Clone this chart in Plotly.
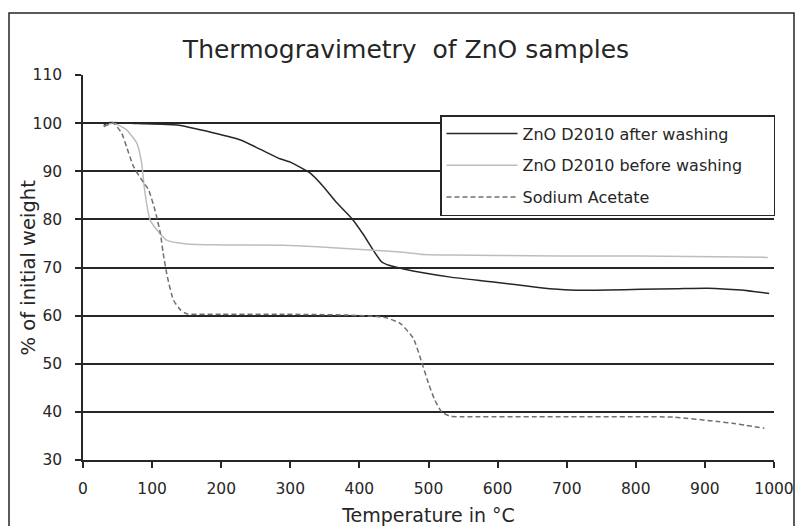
import plotly.graph_objects as go

# ---- data ----
after_x = [30, 36, 80, 136, 188, 228, 256, 285, 300, 328, 348, 367, 389, 406, 420, 432, 444, 464, 492, 532, 594, 662, 705, 760, 807, 860, 904, 952, 993]
after_y = [99.5, 100.1, 99.9, 99.6, 98.0, 96.5, 94.6, 92.6, 91.9, 89.7, 86.8, 83.5, 80.2, 76.8, 73.6, 71.2, 70.4, 69.7, 68.9, 68.0, 67.0, 65.8, 65.3, 65.3, 65.5, 65.6, 65.7, 65.3, 64.6]

before_x = [30, 44, 63, 78, 85, 88, 92, 97, 107, 121, 150, 200, 290, 339, 420, 459, 493, 532, 600, 691, 807, 991]
before_y = [99.3, 100, 98.6, 95.8, 91.6, 87.5, 83.3, 79.9, 77.8, 75.7, 74.9, 74.7, 74.6, 74.3, 73.6, 73.2, 72.7, 72.6, 72.5, 72.4, 72.4, 72.1]

acetate_x = [30, 44, 56, 63, 73, 85, 95, 104, 112, 116, 122, 131, 141, 150, 200, 285, 387, 426, 440, 459, 478, 490, 500, 509, 519, 531, 546, 691, 800, 855, 918, 942, 986]
acetate_y = [99.3, 100, 97.9, 95.1, 91.0, 88.2, 86.1, 82.0, 77.1, 73.0, 68.1, 63.2, 61.2, 60.4, 60.3, 60.3, 60.1, 59.8, 59.5, 58.4, 55.3, 50.4, 45.9, 42.5, 40.0, 39.1, 39.0, 39.0, 39.0, 38.9, 38.0, 37.6, 36.6]

series_names = ["ZnO D2010 after washing", "ZnO D2010 before washing", "Sodium Acetate"]
x_ticks = [0, 100, 200, 300, 400, 500, 600, 700, 800, 900, 1000]
y_ticks = [30, 40, 50, 60, 70, 80, 90, 100, 110]

FONT = "DejaVu Sans"
INK = "#262626"

fig = go.Figure()
fig.add_trace(go.Scatter(x=after_x, y=after_y, mode="lines", name=series_names[0],
                         legendgroup="a",
                         line=dict(color=INK, width=1.5, shape="spline", smoothing=0.5)))
fig.add_trace(go.Scatter(x=before_x, y=before_y, mode="lines",
                         name=series_names[1] + "\u00a0\u00a0\u00a0\u00a0\u00a0",
                         legendgroup="b",
                         line=dict(color="#bdbdbd", width=1.5, shape="spline", smoothing=0.5)))
fig.add_trace(go.Scatter(x=acetate_x, y=acetate_y, mode="lines", name=series_names[2],
                         legendgroup="c",
                         line=dict(color="#707070", width=1.5, dash="5px,3px", shape="spline", smoothing=0.5)))

fig.update_layout(
    width=795, height=526,
    margin=dict(l=83, r=21, t=75, b=66),
    paper_bgcolor="white", plot_bgcolor="white",
    font=dict(family=FONT, color=INK),
    title=dict(text="Thermogravimetry\u00a0 of ZnO samples", x=0.5107, xanchor="center",
               y=1 - 49 / 526, yanchor="middle", font=dict(family=FONT, size=25, color=INK)),
    xaxis=dict(range=[0, 1000], tickvals=x_ticks, ticks="outside", ticklen=6, tickwidth=1.5,
               tickcolor=INK, showline=True, linecolor=INK, linewidth=1.5,
               showgrid=False, zeroline=False, tickfont=dict(size=15.5), automargin=False,
               ticklabelstandoff=8,
               title=dict(text="Temperature in °C", font=dict(size=19), standoff=14)),
    yaxis=dict(range=[30, 110], tickvals=y_ticks, ticks="outside", ticklen=6, tickwidth=1.5,
               tickcolor=INK, showline=True, linecolor=INK, linewidth=1.5,
               showgrid=True, gridcolor=INK, gridwidth=1.5, zeroline=False,
               tickfont=dict(size=15.5), automargin=False, ticklabelstandoff=10),
    annotations=[dict(text="% of initial weight", xref="paper", yref="paper",
                      x=(28 - 83) / 691, y=0.5, xanchor="center", yanchor="middle",
                      textangle=-90, showarrow=False, font=dict(size=19.5, color=INK))],
    legend=dict(x=(440 - 83) / 691, y=(460 - 115) / 385, xanchor="left", yanchor="top",
                bgcolor="white", bordercolor=INK, borderwidth=1.5,
                font=dict(size=16), traceorder="grouped", tracegroupgap=8, itemwidth=71),
    showlegend=True,
    shapes=[dict(type="rect", xref="paper", yref="paper",
                 x0=(9 - 83) / 691, x1=(794 - 83) / 691, y0=(460 - 540) / 385, y1=(460 - 13) / 385,
                 line=dict(color=INK, width=1.5), fillcolor="rgba(0,0,0,0)", layer="below")],
)

fig.write_html("out.html")
